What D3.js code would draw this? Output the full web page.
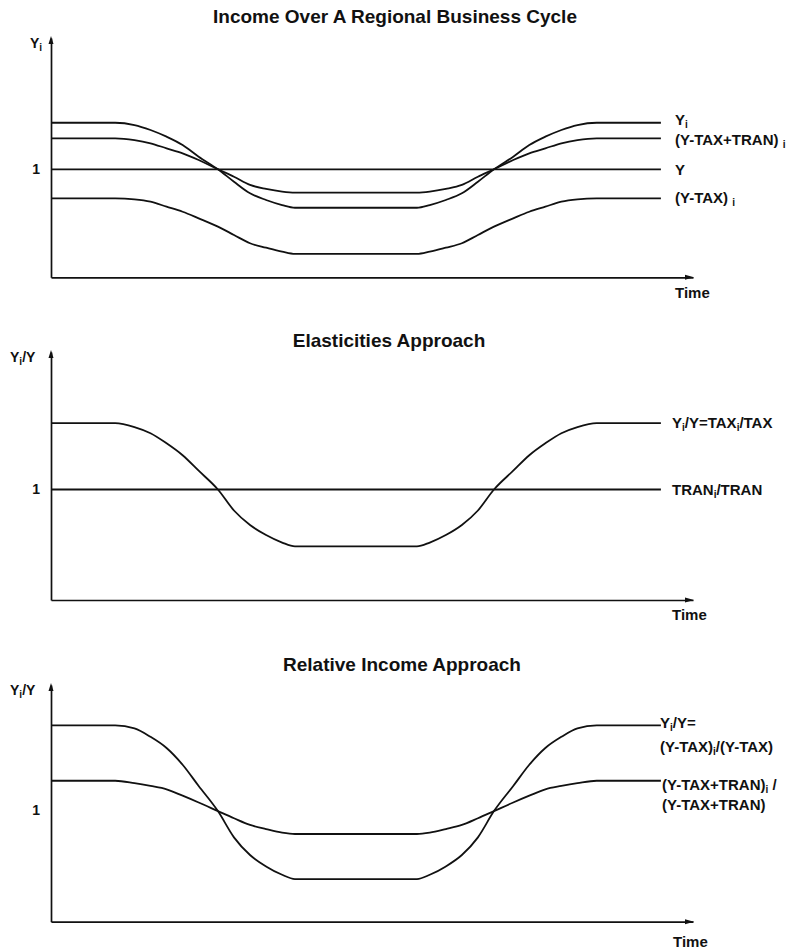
<!DOCTYPE html>
<html>
<head>
<meta charset="utf-8">
<script src="https://cdn.jsdelivr.net/npm/d3@7"></script>
<style>
body { margin: 0; background: #fff; }
text { font-family: "Liberation Sans", Arial, Helvetica, sans-serif; font-weight: bold; fill: #111; }
</style>
</head>
<body>
<script>
// shared time grid (0 = vertical axis, 100 = tip of the time arrow)
var cycleTimes = [0, 10, 13, 15.5, 18, 20.5, 23, 26, 28.5, 31, 33.5, 36, 38,
    57, 59, 61.5, 64, 66.5, 69, 72, 74.5, 77, 79.5, 82, 85, 95]
var flatTimes = [0, 95]
var flatOne = [1, 1]

var titles = ["Income Over A Regional Business Cycle", "Elasticities Approach", "Relative Income Approach"]
var axisLabels = ["Y_i", "Y_i/Y", "Y_i/Y"]
var xAxisLabel = "Time"

// panel 1
var incomeYi = [1.431, 1.431, 1.41, 1.364, 1.302, 1.225, 1.117, 1.0, 0.885, 0.778, 0.716, 0.669, 0.644,
    0.644, 0.669, 0.716, 0.778, 0.885, 1.0, 1.117, 1.225, 1.302, 1.364, 1.41, 1.431, 1.431]
var incomeYTT = [1.287, 1.287, 1.271, 1.241, 1.194, 1.148, 1.086, 1.0, 0.931, 0.855, 0.818, 0.793, 0.784,
    0.784, 0.793, 0.818, 0.855, 0.931, 1.0, 1.086, 1.148, 1.194, 1.241, 1.271, 1.287, 1.287]
var incomeYT = [0.731, 0.731, 0.722, 0.7, 0.654, 0.607, 0.546, 0.469, 0.392, 0.315, 0.274, 0.237, 0.216,
    0.216, 0.237, 0.274, 0.315, 0.392, 0.469, 0.546, 0.607, 0.654, 0.7, 0.722, 0.731, 0.731]
// panel 2
var elasYi = [1.6, 1.6, 1.565, 1.509, 1.418, 1.31, 1.17, 1.0, 0.81, 0.679, 0.588, 0.52, 0.485,
    0.485, 0.52, 0.588, 0.679, 0.81, 1.0, 1.17, 1.31, 1.418, 1.509, 1.565, 1.6, 1.6]
// panel 3
var relYi = [1.757, 1.757, 1.73, 1.655, 1.555, 1.405, 1.215, 0.99, 0.755, 0.597, 0.495, 0.42, 0.382,
    0.382, 0.42, 0.495, 0.597, 0.755, 0.99, 1.215, 1.405, 1.555, 1.655, 1.73, 1.757, 1.757]
var relYTT = [1.262, 1.262, 1.24, 1.215, 1.185, 1.128, 1.067, 0.99, 0.926, 0.866, 0.829, 0.797, 0.785,
    0.785, 0.797, 0.829, 0.866, 0.926, 0.99, 1.067, 1.128, 1.185, 1.215, 1.24, 1.262, 1.262]

var panels = [
    {
        title: titles[0], titleX: 395, titleY: 23, axisLabel: axisLabels[0],
        top: 38, base: 277.3, one: 169.3, timeY: 298, timeX: 675,
        series: [
            { t: cycleTimes, v: incomeYi, label: ["Y_i"], lx: 675, ly: [125] },
            { t: cycleTimes, v: incomeYTT, label: ["(Y-TAX+TRAN) _i"], lx: 675, ly: [145] },
            { t: flatTimes, v: flatOne, label: ["Y"], lx: 675, ly: [175] },
            { t: cycleTimes, v: incomeYT, label: ["(Y-TAX) _i"], lx: 675, ly: [203] }
        ]
    },
    {
        title: titles[1], titleX: 389, titleY: 347, axisLabel: axisLabels[1],
        top: 352, base: 600, one: 489.5, timeY: 620, timeX: 672,
        series: [
            { t: cycleTimes, v: elasYi, label: ["Y_i/Y=TAX_i/TAX"], lx: 672, ly: [428] },
            { t: flatTimes, v: flatOne, label: ["TRAN_i/TRAN"], lx: 672, ly: [495] }
        ]
    },
    {
        title: titles[2], titleX: 402, titleY: 671, axisLabel: axisLabels[2],
        top: 685, base: 921.7, one: 810, timeY: 946.7, timeX: 673,
        series: [
            { t: cycleTimes, v: relYi, label: ["Y_i/Y=", "(Y-TAX)_i/(Y-TAX)"], lx: 660, ly: [728, 752] },
            { t: cycleTimes, v: relYTT, label: ["(Y-TAX+TRAN)_i /", "(Y-TAX+TRAN)"], lx: 662, ly: [790, 810] }
        ]
    }
]

var ink = "#111"
var svg = d3.select("body").append("svg")
    .attr("width", 801)
    .attr("height", 951)

var xScale = d3.scaleLinear()
    .domain([0, 100])
    .range([51, 693])

// writes "Y_i" style strings: "_x" puts x as subscript
function richText(sel, str) {
    var parts = str.split(/(_.)/)
    var down = false
    parts.forEach(function (p) {
        if (!p) return
        if (p[0] === "_") {
            sel.append("tspan").attr("dy", 3).style("font-size", "10px").text(p[1])
            down = true
        } else {
            sel.append("tspan").attr("dy", down ? -3 : 0).text(p)
            down = false
        }
    })
}

panels.forEach(function (p) {
    var g = svg.append("g")
    var yTop = (p.base - p.top) / (p.base - p.one)
    var yScale = d3.scaleLinear()
        .domain([0, yTop])
        .range([p.base, p.top])

    g.append("text")
        .attr("x", p.titleX)
        .attr("y", p.titleY)
        .attr("text-anchor", "middle")
        .style("font-size", "19px")
        .text(p.title)

    // y axis with the single "1" mark
    var yAxis = g.append("g")
        .attr("transform", "translate(" + xScale(0) + ",0)")
        .call(d3.axisLeft(yScale).tickValues([1]).tickSize(0).tickSizeOuter(0).tickPadding(11))
    yAxis.select(".domain").attr("stroke", ink).attr("stroke-width", 1.7)
    yAxis.selectAll(".tick text")
        .attr("fill", ink)
        .style("font-size", "14px")
        .style("font-family", '"Liberation Sans", Arial, sans-serif')
        .style("font-weight", "bold")
        .text("1")

    var xAxis = g.append("g")
        .attr("transform", "translate(0," + p.base + ")")
        .call(d3.axisBottom(xScale).tickValues([]).tickSizeOuter(0))
    xAxis.select(".domain").attr("stroke", ink).attr("stroke-width", 1.7)

    // arrow heads
    var x0 = xScale(0), x1 = xScale(100)
    g.append("path")
        .attr("d", "M" + x0 + "," + (p.top - 2) + "L" + (x0 - 2.5) + "," + (p.top + 6) + "L" + (x0 + 2.5) + "," + (p.top + 6) + "Z")
        .attr("fill", ink)
    g.append("path")
        .attr("d", "M" + (x1 + 1) + "," + p.base + "L" + (x1 - 8) + "," + (p.base - 2.5) + "L" + (x1 - 8) + "," + (p.base + 2.5) + "Z")
        .attr("fill", ink)

    var yl = g.append("text")
        .attr("x", p.axisLabel === "Y_i" ? 30 : 10)
        .attr("y", p.top + 10)
        .style("font-size", "14px")
    richText(yl, p.axisLabel)

    g.append("text")
        .attr("x", p.timeX)
        .attr("y", p.timeY)
        .style("font-size", "15px")
        .text(xAxisLabel)

    var line = d3.line()
        .x(function (d) { return xScale(d.t) })
        .y(function (d) { return yScale(d.v) })
        .curve(d3.curveMonotoneX)

    p.series.forEach(function (s) {
        var pts = s.t.map(function (t, i) { return { t: t, v: s.v[i] } })
        g.append("path")
            .datum(pts)
            .attr("d", line)
            .attr("fill", "none")
            .attr("stroke", ink)
            .attr("stroke-width", 1.8)

        s.label.forEach(function (txt, i) {
            var t = g.append("text")
                .attr("x", s.lx)
                .attr("y", s.ly[i])
                .style("font-size", "15px")
            richText(t, txt)
        })
    })
})
</script>
</body>
</html>
